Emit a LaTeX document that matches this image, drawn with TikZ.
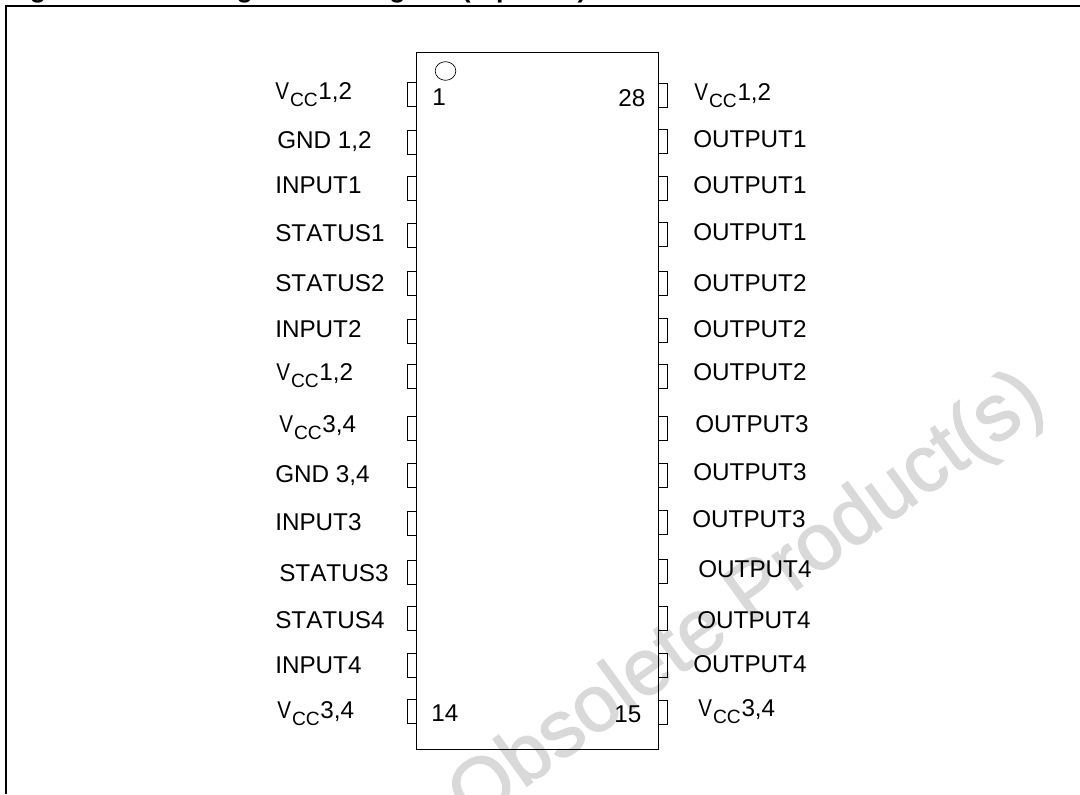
\documentclass[tikz,border=0pt]{standalone}
\usepackage{fontspec}
\setmainfont[Kerning=Off]{Liberation Sans}
\newfontfamily\stampfont[FakeBold=1.6]{Liberation Sans}
\usetikzlibrary{
  shapes.geometric,
  positioning
}
\definecolor{stamp}{gray}{0.85}
\tikzset{
  pinbox/.style = {draw, rectangle, inner sep = 0pt, minimum width = 6.75pt, minimum height = 18pt, line width = 0.75pt},
  pinlabel/.style = {anchor = base west, inner sep = 0pt, font = \fontsize{18.2}{20}\selectfont},
  pinnum/.style = {anchor = base west, inner sep = 0pt, font = \fontsize{18.2}{20}\selectfont}
}
\newcommand{\vcc}[1]{\scalebox{0.85}[1]{V}\kern0.8pt\raisebox{-5.25pt}{\fontsize{14.4}{15}\selectfont CC}\kern0.5pt #1}

\begin{document}
\begin{tikzpicture}[x = 0.75pt, y = -0.75pt]
    \clip (0,0) rectangle (1080,794);

    \node[anchor = base west, inner sep = 0pt, font = \fontsize{20}{22}\bfseries\selectfont] (title) at (6,-3) {Figure 2.\hspace{1.55em} Configuration diagram (top view)};
    \node[text = stamp, inner sep = 0pt, rotate = 36, font = \stampfont\fontsize{60}{62}\selectfont] (stamp) at (748,600) {Obsolete Product(s)};

    \draw[line width = 1.5pt] (6,794) -- (6,6) -- (1080,6);

    \node[draw, rectangle, inner sep = 0pt, line width = 0.75pt, minimum width = 181.5pt, minimum height = 522.4pt] (chip) at (537.5,400.8) {};
    \node[draw, ellipse, inner sep = 0pt, line width = 0.5pt, minimum width = 15.5pt, minimum height = 14pt] (mark) at (445.5,71) {};

    \node[pinnum] (n1) at (432,105) {1};
    \node[pinnum] (n28) at (618,106) {28};
    \node[pinnum] (n14) at (431,721) {14};
    \node[pinnum] (n15) at (614,722) {15};

    \node[pinbox] (p1) at (412,94) {};
    \node[pinbox] (p2) at (412,142) {};
    \node[pinbox] (p3) at (412,188) {};
    \node[pinbox] (p4) at (412,235) {};
    \node[pinbox] (p5) at (412,283) {};
    \node[pinbox] (p6) at (412,331) {};
    \node[pinbox] (p7) at (412,376) {};
    \node[pinbox] (p8) at (412,428) {};
    \node[pinbox] (p9) at (412,475) {};
    \node[pinbox] (p10) at (412,523) {};
    \node[pinbox] (p11) at (412,572) {};
    \node[pinbox] (p12) at (412,618) {};
    \node[pinbox] (p13) at (412,665) {};
    \node[pinbox] (p14) at (412,711) {};

    \node[pinbox] (p28) at (663,95) {};
    \node[pinbox] (p27) at (663,141) {};
    \node[pinbox] (p26) at (663,188) {};
    \node[pinbox] (p25) at (663,234) {};
    \node[pinbox] (p24) at (663,283) {};
    \node[pinbox] (p23) at (663,330) {};
    \node[pinbox] (p22) at (663,376) {};
    \node[pinbox] (p21) at (663,428) {};
    \node[pinbox] (p20) at (663,475) {};
    \node[pinbox] (p19) at (663,522) {};
    \node[pinbox] (p18) at (663,571) {};
    \node[pinbox] (p17) at (663,618) {};
    \node[pinbox] (p16) at (663,665) {};
    \node[pinbox] (p15) at (663,712) {};

    \node[pinlabel] (l1) at (275,99) {\vcc{1,2}};
    \node[pinlabel] (l2) at (277,148) {GND 1,2};
    \node[pinlabel] (l3) at (275,193) {INPUT1};
    \node[pinlabel] (l4) at (275,241) {STATUS1};
    \node[pinlabel] (l5) at (275,291) {STATUS2};
    \node[pinlabel] (l6) at (275,337) {INPUT2};
    \node[pinlabel] (l7) at (276,380) {\vcc{1,2}};
    \node[pinlabel] (l8) at (279,432) {\vcc{3,4}};
    \node[pinlabel] (l9) at (275,482) {GND 3,4};
    \node[pinlabel] (l10) at (275,530) {INPUT3};
    \node[pinlabel] (l11) at (279,581) {STATUS3};
    \node[pinlabel] (l12) at (275,628) {STATUS4};
    \node[pinlabel] (l13) at (275,673) {INPUT4};
    \node[pinlabel] (l14) at (277,718) {\vcc{3,4}};

    \node[pinlabel] (l28) at (694,100) {\vcc{1,2}};
    \node[pinlabel] (l27) at (693,147) {OUTPUT1};
    \node[pinlabel] (l26) at (693,193) {OUTPUT1};
    \node[pinlabel] (l25) at (693,240) {OUTPUT1};
    \node[pinlabel] (l24) at (693,291) {OUTPUT2};
    \node[pinlabel] (l23) at (693,337) {OUTPUT2};
    \node[pinlabel] (l22) at (693,380) {OUTPUT2};
    \node[pinlabel] (l21) at (695,432) {OUTPUT3};
    \node[pinlabel] (l20) at (693,480) {OUTPUT3};
    \node[pinlabel] (l19) at (692,527) {OUTPUT3};
    \node[pinlabel] (l18) at (698,577) {OUTPUT4};
    \node[pinlabel] (l17) at (697,628) {OUTPUT4};
    \node[pinlabel] (l16) at (693,672) {OUTPUT4};
    \node[pinlabel] (l15) at (698,716) {\vcc{3,4}};
\end{tikzpicture}
\end{document}
